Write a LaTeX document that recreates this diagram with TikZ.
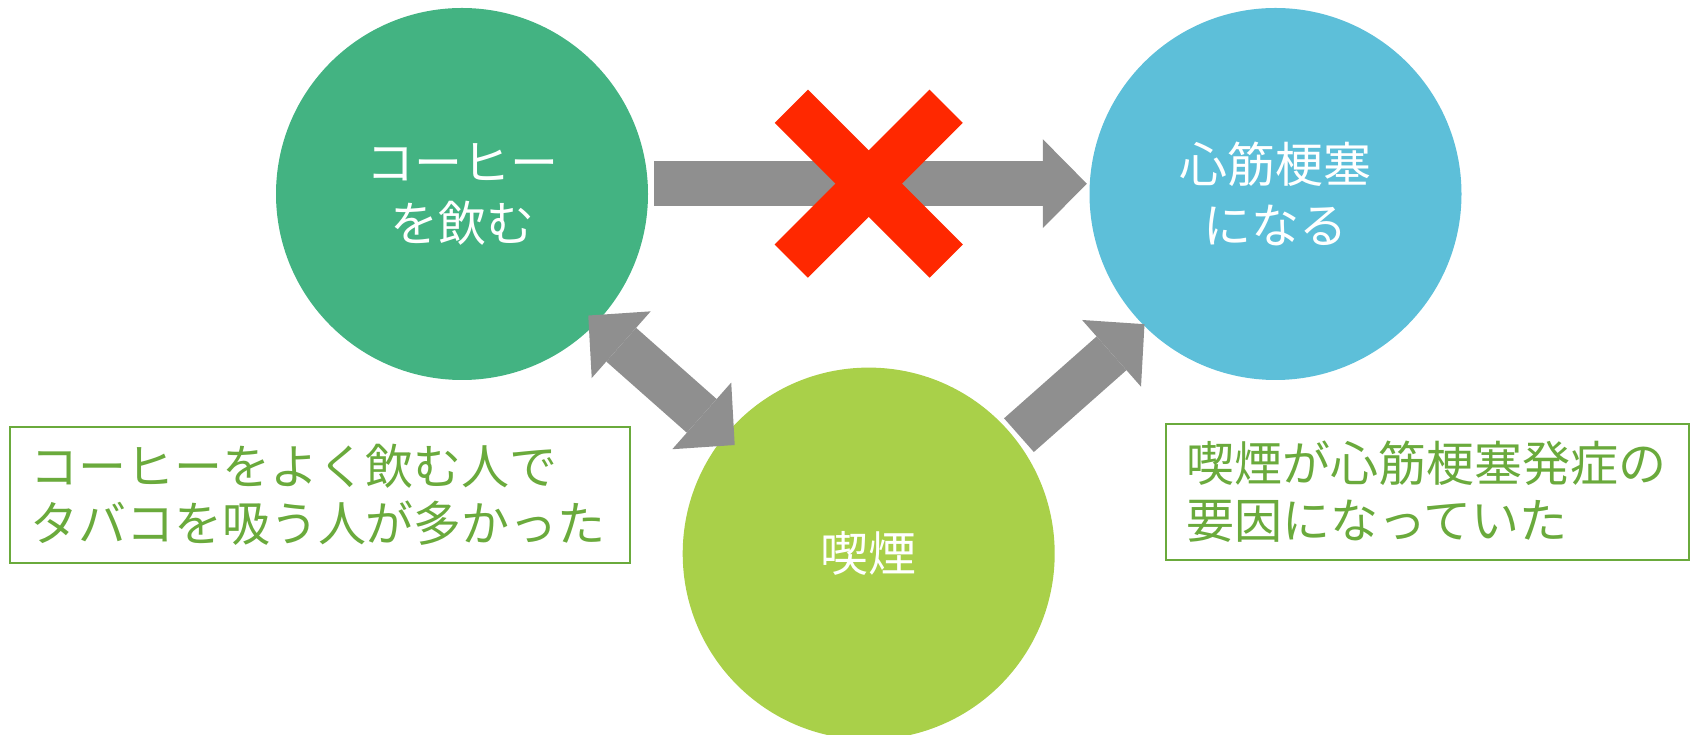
\documentclass[tikz,border=0pt]{standalone}
\usepackage{fontspec}
\setmainfont{Noto Sans CJK JP}
\usetikzlibrary{arrows.meta}

\definecolor{coffeegreen}{HTML}{43B382}
\definecolor{heartblue}{HTML}{5DBFD9}
\definecolor{smokelime}{HTML}{A9D049}
\definecolor{arrowgray}{HTML}{8F8F8F}
\definecolor{crossred}{HTML}{FF2800}
\definecolor{notegreen}{HTML}{6AAA3C}

\tikzset{
	bubble/.style={circle, minimum size=372pt, inner sep=0pt, text=white, align=center, font=\fontsize{48}{61}\selectfont},
	notebox/.style={draw=notegreen, line width=2pt, text=notegreen, align=left, minimum height=136pt, inner xsep=20pt, inner ysep=0pt, font=\fontsize{48}{57}\selectfont},
	fatarrow/.style={draw=arrowgray, line width=45pt, >={Triangle[width=89pt,length=44pt,line width=0pt]}},
	crossbar/.style={fill=crossred, minimum width=219pt, minimum height=47pt, inner sep=0pt}
}

\begin{document}
\begin{tikzpicture}[x=1pt, y=1pt]
		\useasboundingbox (0,0) rectangle (1692,735);
		\draw (462,541) node [bubble, fill=coffeegreen] (coffee) {コーヒー\\を飲む};
		\draw (1275.5,541) node [bubble, fill=heartblue] (heart) {心筋梗塞\\になる};
		\draw (868.7,181.4) node [bubble, fill=smokelime] (smoke) {喫煙};
		\draw (320,240) node [notebox, text width=580pt] (coffeenote) {コーヒーをよく飲む人で\\タバコを吸う人が多かった};
		\draw (1427.5,243) node [notebox, text width=483pt] (smokenote) {喫煙が心筋梗塞発症の\\要因になっていた};
		\draw[fatarrow, ->, shorten <=6pt, shorten >=2.5pt] ([yshift=10.3pt]coffee.east) -- ([yshift=10.3pt]heart.west);
		\draw[fatarrow, <->, shorten <=-11pt, shorten >=-14pt, transform canvas={shift={(-5pt,-5.5pt)}}] (coffee) -- (smoke);
		\draw[fatarrow, ->, shorten <=5pt, shorten >=-2pt, transform canvas={shift={(7pt,-8.2pt)}}] (smoke) -- (heart);
		\draw (868.7,551.3) node [crossbar, rotate=45] (crossa) {};
		\draw (868.7,551.3) node [crossbar, rotate=-45] (crossb) {};
	\end{tikzpicture}
\end{document}
